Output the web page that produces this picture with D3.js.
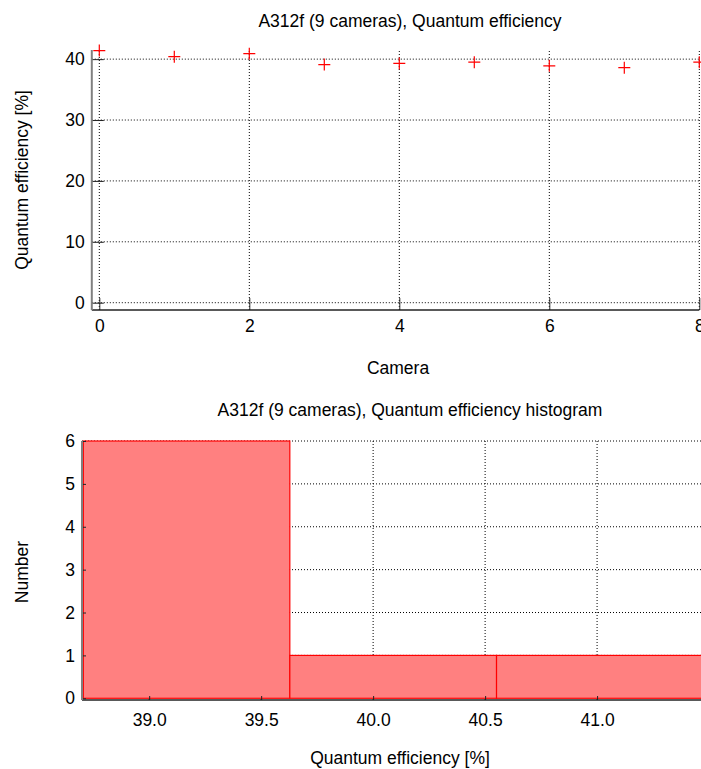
<!DOCTYPE html>
<html><head><meta charset="utf-8">
<script src="https://cdn.jsdelivr.net/npm/d3@7"></script>
<style>
html,body{margin:0;padding:0;background:#fff;}
svg{display:block;font-family:"Liberation Sans",Arial,sans-serif;}
</style></head>
<body><svg id="c" width="701" height="769"></svg>
<script>
// ---- data ----
const cameras = [0,1,2,3,4,5,6,7,8];
const qe = [41.4,40.4,40.9,39.1,39.3,39.5,38.9,38.6,39.5];
const topXTicks = [0,2,4,6,8];
const topYTicks = [0,10,20,30,40];
const binEdges = [38.706,39.628,40.551,41.474];
const binCounts = [6,1,1];
const histXTicks = [39.0,39.5,40.0,40.5,41.0];
const histYTicks = [0,1,2,3,4,5,6];
const title1 = "A312f (9 cameras), Quantum efficiency";
const title2 = "A312f (9 cameras), Quantum efficiency histogram";

const svg = d3.select("#c");
const FS = 17.5;

function grid(g, xs, ys, xt, yt) {
  const [x0,x1] = xs.range(), [y0,y1] = ys.range();
  g.selectAll(".gv").data(xt).join("line")
    .attr("x1",d=>xs(d)).attr("x2",d=>xs(d)).attr("y1",y0).attr("y2",y1)
    .attr("stroke","#000").attr("stroke-width",1).attr("stroke-dasharray","1,2");
  g.selectAll(".gh").data(yt).join("line")
    .attr("x1",x0).attr("x2",x1).attr("y1",d=>ys(d)).attr("y2",d=>ys(d))
    .attr("stroke","#000").attr("stroke-width",1).attr("stroke-dasharray","1,2");
}

function axes(xs, ys, xt, yt, fmtX, fmtY, tick, padX) {
  const [x0,x1] = xs.range(), [y0,y1] = ys.range();
  const gx = svg.append("g").attr("transform",`translate(0,${y0})`)
    .call(d3.axisBottom(xs).tickValues(xt).tickFormat(fmtX).tickSize(-tick).tickPadding(padX));
  const gy = svg.append("g").attr("transform",`translate(${x0},0)`)
    .call(d3.axisLeft(ys).tickValues(yt).tickFormat(fmtY).tickSize(-tick).tickPadding(7));
  [gx,gy].forEach(g=>{
    g.select(".domain").remove();
    g.selectAll("text").attr("font-size",FS).attr("fill","#000")
      .attr("font-family",'"Liberation Sans",Arial,sans-serif');
    g.selectAll("line").attr("stroke","#222");
  });
  svg.append("line").attr("x1",x0).attr("x2",x1).attr("y1",y0).attr("y2",y0)
    .attr("stroke","#222").attr("stroke-width",1.5);
  svg.append("line").attr("x1",x0).attr("x2",x0).attr("y1",y0).attr("y2",y1)
    .attr("stroke","#808080").attr("stroke-width",2);
}

function label(x,y,t,rot) {
  const e = svg.append("text").attr("font-size",FS).attr("text-anchor","middle").text(t);
  if (rot) e.attr("transform",`translate(${x},${y}) rotate(-90)`);
  else e.attr("x",x).attr("y",y);
}

// ---- top: scatter ----
const x1 = d3.scaleLinear().domain([-0.1,8]).range([91.8,699.3]);
const y1 = d3.scaleLinear().domain([-1.2,41.5]).range([310,50]);
grid(svg.append("g"), x1, y1, topXTicks, topYTicks);
axes(x1, y1, topXTicks, topYTicks, d3.format("d"), d3.format("d"), 12, 10);
const pts = svg.append("g");
cameras.forEach((c,i)=>{
  const cx = x1(c), cy = y1(qe[i]);
  pts.append("path").attr("d",`M${cx-6},${cy}H${cx+6}M${cx},${cy-6}V${cy+6}`)
    .attr("stroke","#ff0000").attr("stroke-width",1.2).attr("fill","none");
});
label(410,27,title1);
label(398,374,"Camera");
label(28,180,"Quantum efficiency [%]",true);

// ---- bottom: histogram ----
const x2 = d3.scaleLinear().domain([38.70,41.464]).range([82,701]);
const y2 = d3.scaleLinear().domain([-0.04,6]).range([700,441]);
grid(svg.append("g"), x2, y2, histXTicks, histYTicks.filter(d=>d>0));
svg.append("defs").append("clipPath").attr("id","hc").append("rect")
  .attr("x",82).attr("y",430).attr("width",619).attr("height",272);
svg.append("g").attr("clip-path","url(#hc)").selectAll("rect").data(binCounts).join("rect")
  .attr("x",(d,i)=>x2(binEdges[i])).attr("width",(d,i)=>x2(binEdges[i+1])-x2(binEdges[i]))
  .attr("y",d=>y2(d)).attr("height",d=>y2(0)-y2(d))
  .attr("fill","#ff8080").attr("stroke","#ff0000").attr("stroke-width",1.2);
axes(x2, y2, histXTicks, histYTicks, d3.format(".1f"), d3.format("d"), 4, 14);
label(410,416,title2);
label(400,764,"Quantum efficiency [%]");
label(28,572,"Number",true);
</script></body></html>
